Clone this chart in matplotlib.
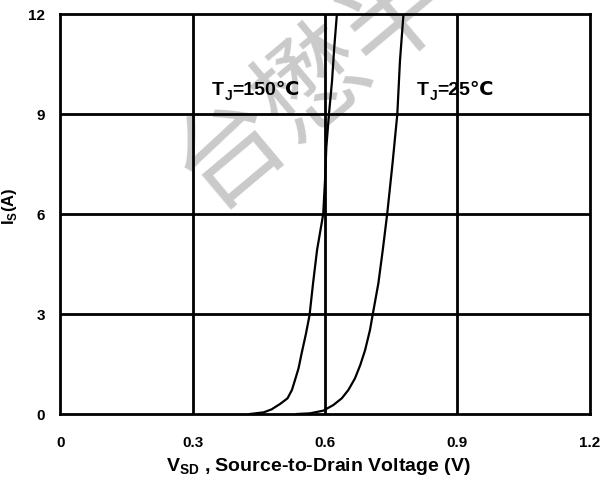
import matplotlib
matplotlib.use("Agg")
import matplotlib.pyplot as plt

# ---- data ----
v_150 = [0.430, 0.461, 0.479, 0.498, 0.515, 0.525, 0.532, 0.540, 0.547, 0.557, 0.565,
         0.573, 0.582, 0.596, 0.600, 0.603, 0.609, 0.616, 0.621, 0.627]
i_150 = [0.0, 0.05, 0.14, 0.30, 0.47, 0.72, 1.02, 1.37, 1.82, 2.42, 2.97,
         3.93, 4.92, 6.0, 7.0, 8.0, 9.0, 10.0, 11.0, 12.0]
v_25 = [0.536, 0.566, 0.596, 0.619, 0.638, 0.653, 0.668, 0.680, 0.691, 0.702, 0.708,
        0.721, 0.731, 0.741, 0.753, 0.764, 0.770, 0.778]
i_25 = [0.0, 0.02, 0.10, 0.27, 0.47, 0.72, 1.07, 1.47, 1.92, 2.52, 2.97,
        3.92, 4.92, 6.0, 7.5, 9.0, 10.6, 12.0]
x_ticks = [0, 0.3, 0.6, 0.9, 1.2]
x_tick_labels = ["0", "0.3", "0.6", "0.9", "1.2"]
y_ticks = [0, 3, 6, 9, 12]
y_tick_labels = ["0", "3", "6", "9", "12"]

FONT = ["Liberation Sans", "DejaVu Sans"]
plt.rcParams["font.family"] = FONT

W, H = 603, 486
fig = plt.figure(figsize=(W / 100, H / 100), dpi=100)
ax = fig.add_axes([60.4 / W, 1 - 414 / H, 529.2 / W, 400 / H])
ax.set_xlim(0, 1.2)
ax.set_ylim(0, 12)

# watermark (below everything else, runs off the top edge like the reference)
ax.text(188 / W, 1 - 185 / H, "台懋半导体", fontsize=78, color="#cacaca",
        family=["Noto Sans CJK SC", "DejaVu Sans"], rotation=40,
        rotation_mode="anchor", ha="left", va="center", zorder=1,
        transform=fig.transFigure, clip_on=False)

for xv in x_ticks[1:-1]:
    ax.axvline(xv, color="black", lw=2, zorder=2)
for yv in y_ticks[1:-1]:
    ax.axhline(yv, color="black", lw=2, zorder=2)
for s in ax.spines.values():
    s.set_linewidth(2)
    s.set_color("black")
    s.set_zorder(2.5)

ax.plot(v_150, i_150, color="black", lw=1.6, zorder=3)
ax.plot(v_25, i_25, color="black", lw=1.6, zorder=3)

ax.set_xticks(x_ticks)
ax.set_xticklabels(x_tick_labels)
ax.set_yticks(y_ticks)
ax.set_yticklabels(y_tick_labels)
ax.tick_params(length=0, labelsize=11)
ax.tick_params(axis="x", pad=16)
ax.tick_params(axis="y", pad=11)
for lab in ax.get_xticklabels() + ax.get_yticklabels():
    lab.set_fontweight("bold")

ax.set_xlabel(r"V$_{\mathregular{SD}}$ , Source-to-Drain Voltage (V)", fontsize=14,
              fontweight="bold")
ax.xaxis.set_label_coords(0.487, -0.105)
ax.set_ylabel(r"I$_{\mathregular{S}}$(A)", fontsize=12, fontweight="bold")
ax.yaxis.set_label_coords(-0.078, 0.52)


def tj_label(x, y, rest):
    t1 = ax.text(x, y, "T", fontsize=14, fontweight="bold", ha="left", va="bottom", zorder=4)
    t2 = ax.annotate("J", xy=(1, 0), xycoords=t1, xytext=(0.5, -3),
                     textcoords="offset points", fontsize=10, fontweight="bold",
                     ha="left", va="bottom", zorder=4)
    ax.annotate(rest, xy=(1, 0), xycoords=(t2, t1), xytext=(0, 0),
                textcoords="offset points", fontsize=14, fontweight="bold",
                ha="left", va="bottom", zorder=4)


tj_label(0.344, 9.45, "=150℃")
tj_label(0.809, 9.45, "=25℃")

fig.savefig("out.png", dpi=100)
